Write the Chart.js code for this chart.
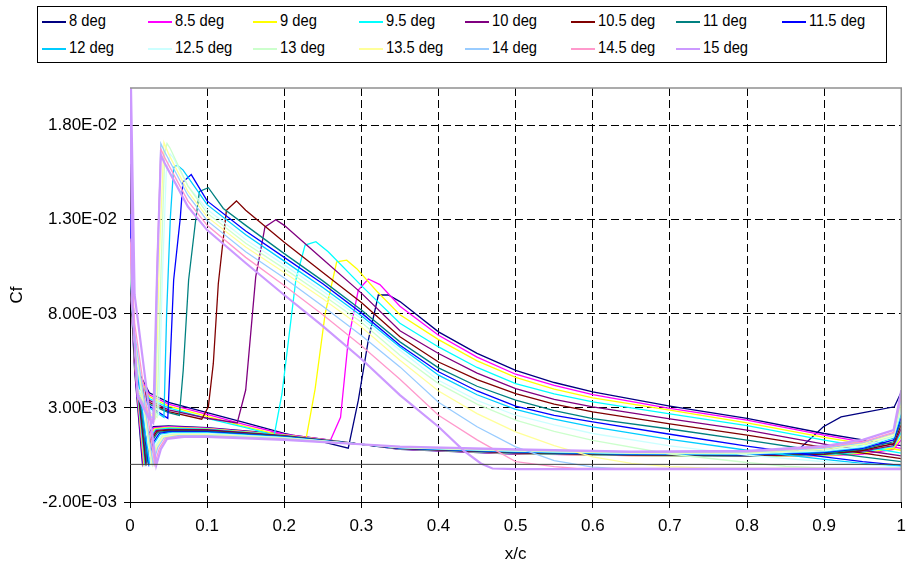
<!DOCTYPE html>
<html>
<head>
<meta charset="utf-8">
<script src="https://cdn.jsdelivr.net/npm/chart.js@4.4.1/dist/chart.umd.min.js"></script>
<style>
  body { margin: 0; background: #fff; }
  #wrap { position: relative; width: 914px; height: 570px; }
  #legend {
    position: absolute; left: 37px; top: 6px; width: 850px; height: 57px;
    border: 1px solid #000; box-sizing: border-box; background: #fff;
    font-family: 'Liberation Sans', Arial, sans-serif; font-size: 16px; color: #000;
  }
  .item { position: absolute; height: 18px; line-height: 18px; white-space: nowrap; }
  .item i { display: inline-block; width: 24px; height: 1.6px; vertical-align: middle; margin-right: 3px; }
  .item span { display: inline-block; transform: scaleX(0.92); transform-origin: left center; }
</style>
</head>
<body>
<div id="wrap">
  <canvas id="cfChart" width="914" height="570"></canvas>
  <div id="legend"></div>
</div>
<script>
// series names and colours (Excel default order)
const angles = ['8 deg', '8.5 deg', '9 deg', '9.5 deg', '10 deg', '10.5 deg', '11 deg', '11.5 deg',
                '12 deg', '12.5 deg', '13 deg', '13.5 deg', '14 deg', '14.5 deg', '15 deg'];
const colors = ['#000080', '#FF00FF', '#FFFF00', '#00FFFF', '#800080', '#800000', '#008080', '#0000FF',
                '#00CCFF', '#CCFFFF', '#CCFFCC', '#FFFF99', '#99CCFF', '#FF99CC', '#CC99FF'];

const xTicks = [0, 0.1, 0.2, 0.3, 0.4, 0.5, 0.6, 0.7, 0.8, 0.9, 1];
const xTickLabels = ['0', '0.1', '0.2', '0.3', '0.4', '0.5', '0.6', '0.7', '0.8', '0.9', '1'];
const yTicks = [-0.002, 0.003, 0.008, 0.013, 0.018];
const yTickLabels = ['-2.00E-03', '3.00E-03', '8.00E-03', '1.30E-02', '1.80E-02'];

// Cf values below are in units of 1e-3, points as [x/c, Cf]
const CF_UNIT = 1e-3;

// upper surface, leading edge -> trailing edge
const up8 = [[0, 10.0], [0.003, 7.5], [0.01, 5.0], [0.025, 3.8], [0.05, 3.3], [0.1, 2.75], [0.15, 2.2], [0.2, 1.65], [0.25, 1.2], [0.283, 0.86], [0.296, 3.4], [0.309, 6.6], [0.322, 9.0], [0.335, 9.0], [0.35, 8.65], [0.4, 7.04], [0.45, 5.9], [0.5, 5.0], [0.55, 4.35], [0.6, 3.85], [0.7, 3.1], [0.8, 2.44], [0.9, 1.64], [0.95, 1.3], [1.0, 1.0]];
const up8_5 = [[0, 10.0], [0.003, 7.6], [0.01, 4.9], [0.025, 3.7], [0.05, 3.2], [0.1, 2.65], [0.15, 2.1], [0.2, 1.6], [0.26, 1.29], [0.273, 2.5], [0.283, 6.6], [0.296, 9.26], [0.309, 9.85], [0.324, 9.55], [0.35, 8.4], [0.4, 6.86], [0.45, 5.7], [0.5, 4.79], [0.55, 4.2], [0.6, 3.71], [0.7, 2.98], [0.8, 2.35], [0.9, 1.55], [0.95, 1.2], [1.0, 0.85]];
const up9 = [[0, 10.2], [0.003, 7.7], [0.01, 4.8], [0.025, 3.6], [0.05, 3.1], [0.1, 2.55], [0.15, 2.0], [0.2, 1.5], [0.228, 1.29], [0.24, 4.0], [0.253, 8.0], [0.268, 10.76], [0.281, 10.85], [0.294, 10.4], [0.32, 9.2], [0.35, 7.95], [0.4, 6.63], [0.45, 5.5], [0.5, 4.62], [0.55, 4.0], [0.6, 3.53], [0.7, 2.88], [0.8, 2.2], [0.9, 1.43], [0.95, 1.1], [1.0, 0.75]];
const up9_5 = [[0, 10.2], [0.003, 7.8], [0.01, 4.7], [0.025, 3.5], [0.05, 3.0], [0.1, 2.45], [0.15, 1.95], [0.187, 1.55], [0.197, 3.74], [0.215, 9.8], [0.227, 11.65], [0.241, 11.83], [0.257, 11.3], [0.3, 9.5], [0.35, 7.5], [0.4, 6.24], [0.45, 5.15], [0.5, 4.29], [0.55, 3.75], [0.6, 3.32], [0.7, 2.68], [0.8, 2.06], [0.9, 1.29], [0.95, 0.95], [1.0, 0.6]];
const up10 = [[0, 10.4], [0.003, 7.9], [0.01, 4.6], [0.025, 3.4], [0.05, 2.9], [0.1, 2.45], [0.139, 2.2], [0.15, 3.95], [0.163, 9.96], [0.175, 12.62], [0.189, 13.0], [0.2, 12.7], [0.25, 10.9], [0.3, 9.1], [0.35, 7.1], [0.4, 5.89], [0.45, 4.85], [0.5, 4.03], [0.55, 3.45], [0.6, 3.05], [0.7, 2.42], [0.8, 1.82], [0.9, 1.08], [0.95, 0.75], [1.0, 0.45]];
const up10_5 = [[0, 10.5], [0.003, 8.0], [0.01, 4.5], [0.025, 3.3], [0.05, 2.8], [0.093, 2.4], [0.1016, 3.06], [0.108, 5.35], [0.1145, 9.6], [0.125, 13.5], [0.138, 14.0], [0.15, 13.5], [0.2, 11.8], [0.25, 10.2], [0.3, 8.6], [0.35, 6.78], [0.4, 5.44], [0.45, 4.5], [0.5, 3.76], [0.55, 3.2], [0.6, 2.79], [0.7, 2.15], [0.8, 1.55], [0.9, 0.9], [0.95, 0.6], [1.0, 0.3]];
const up11 = [[0, 10.8], [0.003, 8.1], [0.01, 4.4], [0.025, 3.2], [0.05, 2.75], [0.064, 2.6], [0.069, 5.0], [0.076, 9.8], [0.0845, 12.76], [0.09, 14.5], [0.1016, 14.7], [0.121, 13.6], [0.15, 12.7], [0.2, 11.2], [0.25, 9.75], [0.3, 8.2], [0.35, 6.51], [0.4, 5.13], [0.45, 4.15], [0.5, 3.41], [0.55, 2.85], [0.6, 2.43], [0.7, 1.88], [0.8, 1.29], [0.9, 0.67], [0.95, 0.4], [1.0, 0.15]];
const up11_5 = [[0, 13.3], [0.003, 8.2], [0.01, 4.3], [0.025, 3.1], [0.049, 2.45], [0.0566, 9.8], [0.0652, 13.1], [0.0686, 15.0], [0.0794, 15.4], [0.1, 14.0], [0.15, 12.4], [0.2, 11.0], [0.25, 9.6], [0.3, 8.05], [0.35, 6.33], [0.4, 4.92], [0.45, 3.9], [0.5, 3.09], [0.55, 2.6], [0.6, 2.26], [0.7, 1.6], [0.8, 0.97], [0.9, 0.4], [0.95, 0.15], [1.0, -0.05]];
const up12 = [[0, 11.0], [0.003, 8.2], [0.01, 4.2], [0.025, 3.0], [0.044, 2.5], [0.0475, 8.0], [0.0523, 13.1], [0.0566, 15.78], [0.061, 15.9], [0.0686, 15.65], [0.1, 13.8], [0.15, 12.2], [0.2, 10.8], [0.25, 9.4], [0.3, 7.9], [0.35, 6.24], [0.4, 4.74], [0.45, 3.7], [0.5, 2.92], [0.55, 2.4], [0.6, 1.99], [0.7, 1.33], [0.8, 0.75], [0.9, 0.26], [0.95, 0.05], [1.0, -0.1]];
const up12_5 = [[0, 11.2], [0.003, 8.2], [0.01, 4.1], [0.025, 2.9], [0.037, 2.6], [0.042, 10.0], [0.047, 15.5], [0.052, 16.5], [0.056, 16.3], [0.075, 14.8], [0.1, 13.55], [0.15, 11.95], [0.2, 10.6], [0.25, 9.2], [0.3, 7.75], [0.35, 6.07], [0.4, 4.47], [0.45, 3.4], [0.5, 2.61], [0.55, 2.1], [0.6, 1.64], [0.7, 0.98], [0.8, 0.49], [0.9, 0.14], [0.95, 0.0], [1.0, -0.15]];
const up13 = [[0, 11.4], [0.003, 8.3], [0.01, 4.0], [0.025, 2.8], [0.035, 2.5], [0.04, 10.0], [0.045, 16.5], [0.048, 17.05], [0.052, 16.8], [0.075, 14.8], [0.1, 13.35], [0.15, 11.75], [0.2, 10.4], [0.25, 9.0], [0.3, 7.55], [0.35, 5.8], [0.4, 4.29], [0.45, 3.2], [0.5, 2.35], [0.55, 1.75], [0.6, 1.28], [0.7, 0.55], [0.8, 0.1], [0.85, -0.1], [0.9, -0.2], [1.0, -0.22]];
const up13_5 = [[0, 11.6], [0.003, 8.3], [0.01, 3.9], [0.025, 2.7], [0.033, 2.45], [0.038, 11.0], [0.044, 17.1], [0.05, 16.5], [0.075, 14.5], [0.1, 13.15], [0.15, 11.55], [0.2, 10.2], [0.25, 8.8], [0.3, 7.3], [0.35, 5.53], [0.4, 3.9], [0.45, 2.7], [0.5, 1.73], [0.55, 1.0], [0.6, 0.4], [0.65, 0.05], [0.7, -0.12], [0.75, -0.2], [0.8, -0.22], [1.0, -0.22]];
const up14 = [[0, 11.8], [0.003, 8.4], [0.01, 3.8], [0.025, 2.6], [0.032, 2.4], [0.036, 11.0], [0.04, 17.05], [0.045, 16.6], [0.075, 14.3], [0.1, 12.95], [0.15, 11.3], [0.2, 9.9], [0.25, 8.4], [0.3, 6.85], [0.35, 5.18], [0.4, 3.3], [0.45, 2.0], [0.5, 0.93], [0.55, 0.2], [0.6, -0.15], [0.63, -0.22], [1.0, -0.22]];
const up14_5 = [[0, 12.0], [0.003, 8.5], [0.01, 3.7], [0.025, 2.5], [0.031, 2.3], [0.035, 10.5], [0.04, 16.75], [0.045, 16.3], [0.075, 14.0], [0.1, 12.7], [0.15, 11.0], [0.2, 9.5], [0.25, 7.95], [0.3, 6.3], [0.35, 4.52], [0.4, 2.61], [0.45, 1.3], [0.5, 0.15], [0.55, -0.12], [0.58, -0.22], [1.0, -0.22]];
const up15 = [[0, 23], [0.003, 8.6], [0.01, 3.6], [0.025, 2.4], [0.03, 2.2], [0.035, 10.0], [0.04, 16.45], [0.045, 16.0], [0.075, 13.7], [0.1, 12.45], [0.15, 10.7], [0.2, 9.0], [0.25, 7.35], [0.3, 5.6], [0.35, 3.68], [0.4, 2.0], [0.433, 0.72], [0.455, 0.05], [0.47, -0.22], [0.5, -0.25], [1.0, -0.25]];

// lower surface, leading edge -> trailing edge
const lo8 = [[0.006, 5.0], [0.016, 0.1], [0.022, 1.5], [0.03, 2.0], [0.05, 2.05], [0.1, 1.95], [0.2, 1.6], [0.35, 0.8], [0.5, 0.55], [0.65, 0.5], [0.8, 0.55], [0.85, 0.65], [0.866, 0.75], [0.899, 2.0], [0.922, 2.52], [0.956, 2.79], [0.991, 3.06], [1.0, 3.85]];
const lo8_5 = [[0.006, 5.2], [0.017, 0.1], [0.023, 1.45], [0.031, 1.95], [0.05, 2.0], [0.1, 1.92], [0.2, 1.58], [0.35, 0.81], [0.5, 0.56], [0.65, 0.46], [0.8, 0.42], [0.9, 0.45], [0.95, 0.55], [0.99, 0.8], [1.0, 1.3]];
const lo9 = [[0.006, 5.4], [0.018, 0.1], [0.024, 1.4], [0.032, 1.9], [0.05, 1.96], [0.1, 1.9], [0.2, 1.56], [0.35, 0.82], [0.5, 0.57], [0.65, 0.47], [0.8, 0.43], [0.9, 0.47], [0.95, 0.6], [0.99, 0.85], [1.0, 1.5]];
const lo9_5 = [[0.006, 5.5], [0.019, 0.1], [0.025, 1.35], [0.033, 1.85], [0.05, 1.92], [0.1, 1.87], [0.2, 1.54], [0.35, 0.83], [0.5, 0.58], [0.65, 0.48], [0.8, 0.44], [0.9, 0.5], [0.95, 0.65], [0.99, 0.95], [1.0, 1.7]];
const lo10 = [[0.006, 5.6], [0.02, 0.1], [0.026, 1.3], [0.034, 1.8], [0.05, 1.86], [0.1, 1.84], [0.2, 1.52], [0.35, 0.84], [0.5, 0.6], [0.65, 0.49], [0.8, 0.45], [0.9, 0.53], [0.95, 0.7], [0.99, 1.0], [1.0, 1.9]];
const lo10_5 = [[0.006, 5.8], [0.021, 0.1], [0.027, 1.25], [0.035, 1.75], [0.05, 1.82], [0.1, 1.8], [0.2, 1.5], [0.35, 0.85], [0.5, 0.62], [0.65, 0.5], [0.8, 0.47], [0.9, 0.56], [0.95, 0.75], [0.99, 1.1], [1.0, 2.1]];
const lo11 = [[0.006, 6.0], [0.022, 0.1], [0.028, 1.2], [0.036, 1.7], [0.05, 1.77], [0.1, 1.76], [0.2, 1.48], [0.35, 0.86], [0.5, 0.64], [0.65, 0.52], [0.8, 0.49], [0.9, 0.6], [0.95, 0.8], [0.99, 1.2], [1.0, 2.3]];
const lo11_5 = [[0.006, 6.5], [0.024, 0.05], [0.03, 1.15], [0.038, 1.65], [0.05, 1.72], [0.1, 1.72], [0.2, 1.46], [0.35, 0.87], [0.5, 0.66], [0.65, 0.54], [0.8, 0.51], [0.9, 0.64], [0.95, 0.85], [0.99, 1.3], [1.0, 2.5]];
const lo12 = [[0.006, 6.2], [0.025, 0.05], [0.031, 1.1], [0.039, 1.6], [0.052, 1.68], [0.1, 1.68], [0.2, 1.44], [0.35, 0.88], [0.5, 0.68], [0.65, 0.56], [0.8, 0.53], [0.9, 0.68], [0.95, 0.9], [0.99, 1.4], [1.0, 2.7]];
const lo12_5 = [[0.006, 6.4], [0.027, 0.05], [0.033, 1.05], [0.041, 1.55], [0.055, 1.64], [0.1, 1.64], [0.2, 1.42], [0.35, 0.89], [0.5, 0.7], [0.65, 0.58], [0.8, 0.56], [0.9, 0.72], [0.95, 0.95], [0.99, 1.45], [1.0, 2.9]];
const lo13 = [[0.006, 6.6], [0.028, 0.05], [0.034, 1.0], [0.042, 1.5], [0.057, 1.6], [0.1, 1.6], [0.2, 1.4], [0.35, 0.9], [0.5, 0.72], [0.65, 0.6], [0.8, 0.59], [0.9, 0.77], [0.95, 1.05], [0.99, 1.5], [1.0, 3.1]];
const lo13_5 = [[0.006, 6.8], [0.029, 0.0], [0.035, 0.95], [0.043, 1.45], [0.06, 1.56], [0.1, 1.56], [0.2, 1.38], [0.35, 0.91], [0.5, 0.74], [0.65, 0.62], [0.8, 0.62], [0.9, 0.82], [0.95, 1.1], [0.99, 1.6], [1.0, 3.3]];
const lo14 = [[0.006, 7.0], [0.03, 0.0], [0.036, 0.9], [0.044, 1.4], [0.062, 1.52], [0.1, 1.52], [0.2, 1.36], [0.35, 0.92], [0.5, 0.76], [0.65, 0.64], [0.8, 0.65], [0.9, 0.87], [0.95, 1.15], [0.99, 1.65], [1.0, 3.5]];
const lo14_5 = [[0.006, 7.5], [0.032, 0.0], [0.038, 0.85], [0.046, 1.38], [0.065, 1.49], [0.1, 1.49], [0.2, 1.33], [0.35, 0.93], [0.5, 0.78], [0.65, 0.66], [0.8, 0.68], [0.9, 0.92], [0.95, 1.2], [0.99, 1.7], [1.0, 3.7]];
const lo15 = [[0.006, 9.0], [0.034, -0.05], [0.04, 0.8], [0.048, 1.35], [0.07, 1.46], [0.1, 1.46], [0.2, 1.3], [0.35, 0.95], [0.5, 0.8], [0.65, 0.68], [0.8, 0.72], [0.9, 0.97], [0.95, 1.3], [0.99, 1.82], [1.0, 3.94]];

const upper = [up8, up8_5, up9, up9_5, up10, up10_5, up11, up11_5, up12, up12_5, up13, up13_5, up14, up14_5, up15];
const lower = [lo8, lo8_5, lo9, lo9_5, lo10, lo10_5, lo11, lo11_5, lo12, lo12_5, lo13, lo13_5, lo14, lo14_5, lo15];

// one polyline per angle: TE upper -> LE -> TE lower
function surfacePoints(up, lo) {
    return up.slice().reverse().concat(lo).map(p => ({ x: p[0], y: p[1] * CF_UNIT }));
}

const datasets = angles.map((name, i) => ({
    label: name,
    data: surfacePoints(upper[i], lower[i]),
    borderColor: colors[i],
    backgroundColor: colors[i],
    borderWidth: i === angles.length - 1 ? 2.2 : 1.3,
    pointRadius: 0,
    showLine: true,
    tension: 0,
    order: angles.length - i
}));

// legend as html, 8 columns
const legendBox = document.getElementById('legend');
angles.forEach((name, i) => {
    const el = document.createElement('div');
    el.className = 'item';
    el.style.left = (4 + (i % 8) * 105.7) + 'px';
    el.style.top = (5 + Math.floor(i / 8) * 27) + 'px';
    el.innerHTML = '<i style="background:' + colors[i] + '"></i><span>' + name + '</span>';
    legendBox.appendChild(el);
});

const framePlugin = {
    id: 'frame',
    afterDatasetsDraw(chart) {
        const { ctx, chartArea: a, scales } = chart;
        const y0 = scales.y.getPixelForValue(0);
        ctx.save();
        ctx.strokeStyle = '#404040';
        ctx.lineWidth = 1;
        ctx.beginPath();
        ctx.moveTo(a.left, y0);
        ctx.lineTo(a.right, y0);
        ctx.stroke();
        ctx.strokeStyle = '#909090';
        ctx.lineWidth = 1.5;
        ctx.beginPath();
        ctx.moveTo(a.left, a.top);
        ctx.lineTo(a.right, a.top);
        ctx.lineTo(a.right, a.bottom);
        ctx.stroke();
        ctx.restore();
    }
};

const tickFont = { family: "'Liberation Sans', Arial, sans-serif", size: 17 };

new Chart(document.getElementById('cfChart'), {
    type: 'scatter',
    data: { datasets },
    options: {
        responsive: false,
        animation: false,
        layout: { padding: { top: 88, right: 7, left: 0, bottom: 1 } },
        plugins: { legend: { display: false }, tooltip: { enabled: false } },
        scales: {
            x: {
                type: 'linear',
                min: 0,
                max: 1,
                afterBuildTicks: scale => { scale.ticks = xTicks.map(v => ({ value: v })); },
                afterFit: scale => { scale.height = 67; },
                ticks: {
                    font: tickFont, color: '#000', padding: 8, maxRotation: 0,
                    callback: (v, i) => xTickLabels[i]
                },
                grid: {
                    color: c => (c.tick && (c.tick.value === 0 || c.tick.value === 1)) ? 'rgba(0,0,0,0)' : '#000',
                    lineWidth: 1, tickLength: 6, tickColor: '#000'
                },
                border: { display: true, color: '#000', width: 1, dash: [8, 4] },
                title: { display: true, text: 'x/c', font: tickFont, color: '#000', padding: 4 }
            },
            y: {
                type: 'linear',
                min: -0.002,
                max: 0.02,
                afterBuildTicks: scale => { scale.ticks = yTicks.map(v => ({ value: v })); },
                afterFit: scale => { scale.width = 130; },
                ticks: {
                    font: tickFont, color: '#000', padding: 7,
                    callback: (v, i) => yTickLabels[i]
                },
                grid: {
                    color: c => (c.tick && c.tick.value === -0.002) ? 'rgba(0,0,0,0)' : '#000',
                    lineWidth: 1, tickLength: 6, tickColor: '#000'
                },
                border: { display: true, color: '#000', width: 1, dash: [8, 4] },
                title: { display: true, text: 'Cf', font: tickFont, color: '#000', padding: 7 }
            }
        }
    },
    plugins: [framePlugin]
});
</script>
</body>
</html>
